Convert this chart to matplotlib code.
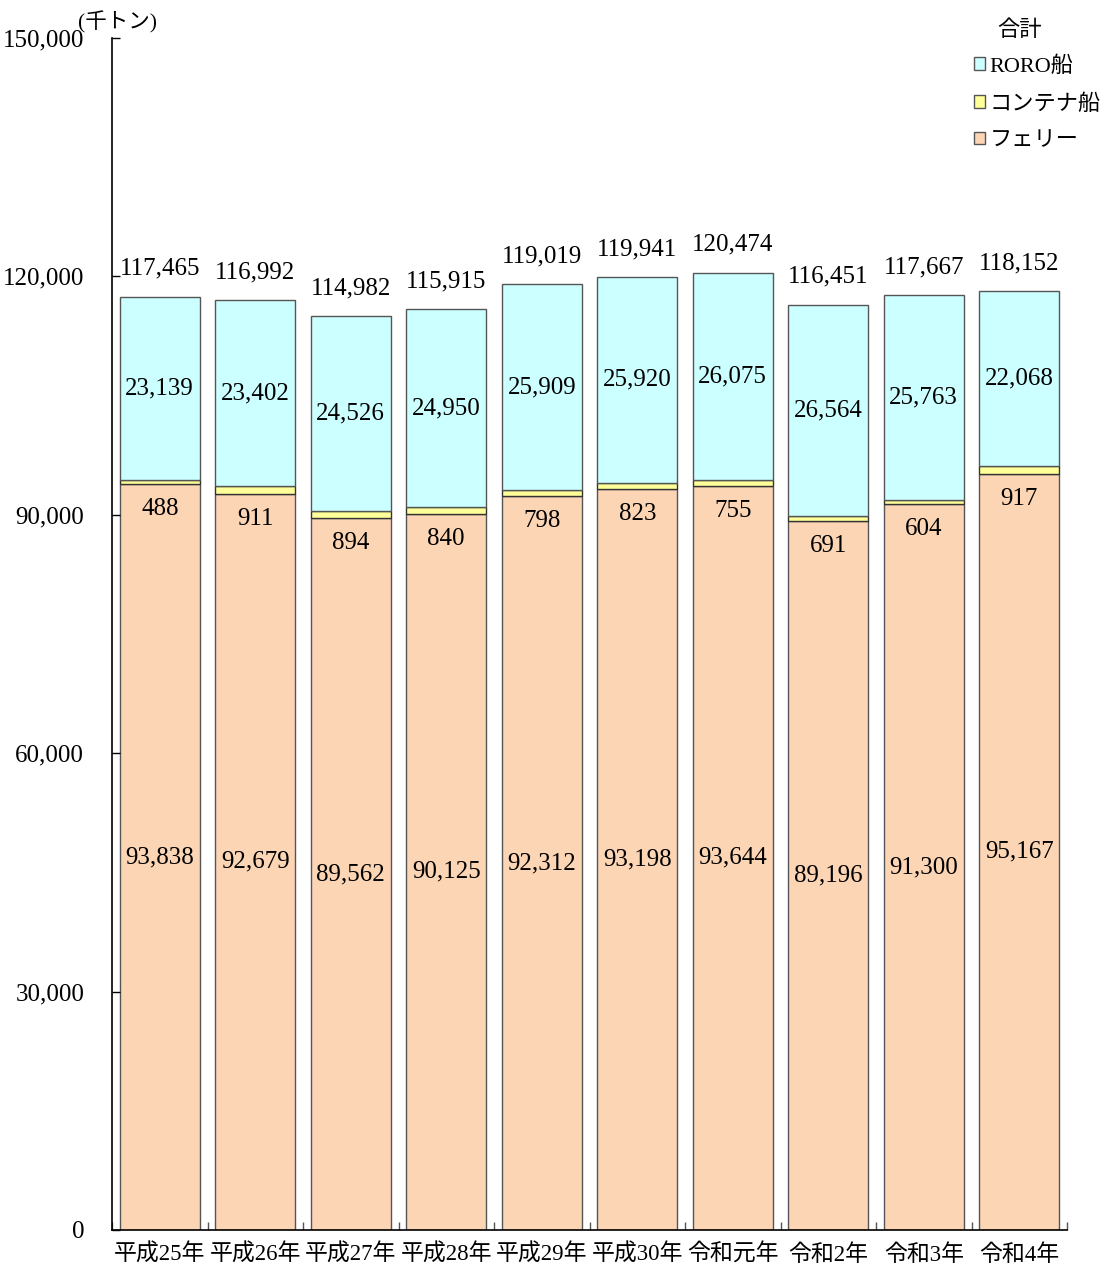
import matplotlib
matplotlib.use("Agg")
import matplotlib.pyplot as plt
import numpy as np
from matplotlib.patches import Patch

plt.rcParams['font.family'] = ['Liberation Serif', 'Noto Sans CJK JP', 'DejaVu Sans']

categories = ['平成25年', '平成26年', '平成27年', '平成28年', '平成29年',
              '平成30年', '令和元年', '令和2年', '令和3年', '令和4年']
ferry = [93838, 92679, 89562, 90125, 92312, 93198, 93644, 89196, 91300, 95167]
container = [488, 911, 894, 840, 798, 823, 755, 691, 604, 917]
roro = [23139, 23402, 24526, 24950, 25909, 25920, 26075, 26564, 25763, 22068]
totals = [117465, 116992, 114982, 115915, 119019, 119941, 120474, 116451, 117667, 118152]
yticks = [0, 30000, 60000, 90000, 120000, 150000]

c_ferry = '#FCD5B4'
c_cont = '#FFFF99'
c_roro = '#CCFFFF'
edge = '#555555'

fig = plt.figure(figsize=(11.14, 12.73), dpi=100)
ax = fig.add_axes([112/1114, 43/1273, 955/1114, 1192/1273])

x = np.arange(len(categories))
w = 0.84
ferry_a = np.array(ferry)
cont_a = np.array(container)
roro_a = np.array(roro)

ax.bar(x, ferry_a, w, color=c_ferry, edgecolor=edge, linewidth=1)
ax.bar(x, cont_a, w, bottom=ferry_a, color=c_cont, edgecolor='#333333', linewidth=1)
ax.bar(x, roro_a, w, bottom=ferry_a + cont_a, color=c_roro, edgecolor=edge, linewidth=1)

fs = 18
for i in range(len(x)):
    ax.text(x[i], ferry_a[i] / 2, f'{ferry[i]:,}', ha='center', va='center', fontsize=fs)
    ax.annotate(f'{container[i]:,}', (x[i], ferry_a[i]), xytext=(0, -18),
                textcoords='offset points', ha='center', va='center', fontsize=fs)
    ax.text(x[i], ferry_a[i] + cont_a[i] + roro_a[i] / 2, f'{roro[i]:,}',
            ha='center', va='center', fontsize=fs)
    ax.annotate(f'{totals[i]:,}', (x[i], totals[i]), xytext=(0, 20),
                textcoords='offset points', ha='center', va='center', fontsize=fs)

ax.set_xlim(-0.5, len(x) - 0.5)
ax.set_ylim(0, 150000)
ax.set_yticks(yticks)
ax.set_yticklabels([f'{v:,}' for v in yticks], fontsize=fs)
ax.tick_params(axis='y', direction='in', length=6, pad=20, width=1)
ax.set_xticks(x)
ax.set_xticklabels(categories, fontsize=16.5)
ax.tick_params(axis='x', length=0, pad=10)
ax.set_xticks(np.arange(len(x) + 1) - 0.5, minor=True)
ax.tick_params(axis='x', which='minor', direction='in', length=6, width=1, color='#555555')

for s in ['top', 'right']:
    ax.spines[s].set_visible(False)
ax.spines['left'].set_linewidth(1.2)
ax.spines['bottom'].set_linewidth(1.2)

fig.text(78/1114, 1 - 22/1273, '(千トン)', fontsize=15.5, ha='left', va='center')
fig.text(1020/1114, 1 - 31/1273, '合計', fontsize=16, ha='center', va='center')

handles = [Patch(facecolor=c_roro, edgecolor=edge),
           Patch(facecolor=c_cont, edgecolor=edge),
           Patch(facecolor=c_ferry, edgecolor=edge)]
leg = ax.legend(handles, ['RORO船', 'コンテナ船', 'フェリー'],
                loc='upper left', bbox_to_anchor=(974/1114, 1 - 56/1273),
                bbox_transform=fig.transFigure, frameon=False, fontsize=16,
                handlelength=0.5, handleheight=0.5,
                handletextpad=0.2, labelspacing=0.78, borderaxespad=0,
                borderpad=0)

fig.savefig('out.png', dpi=100)
